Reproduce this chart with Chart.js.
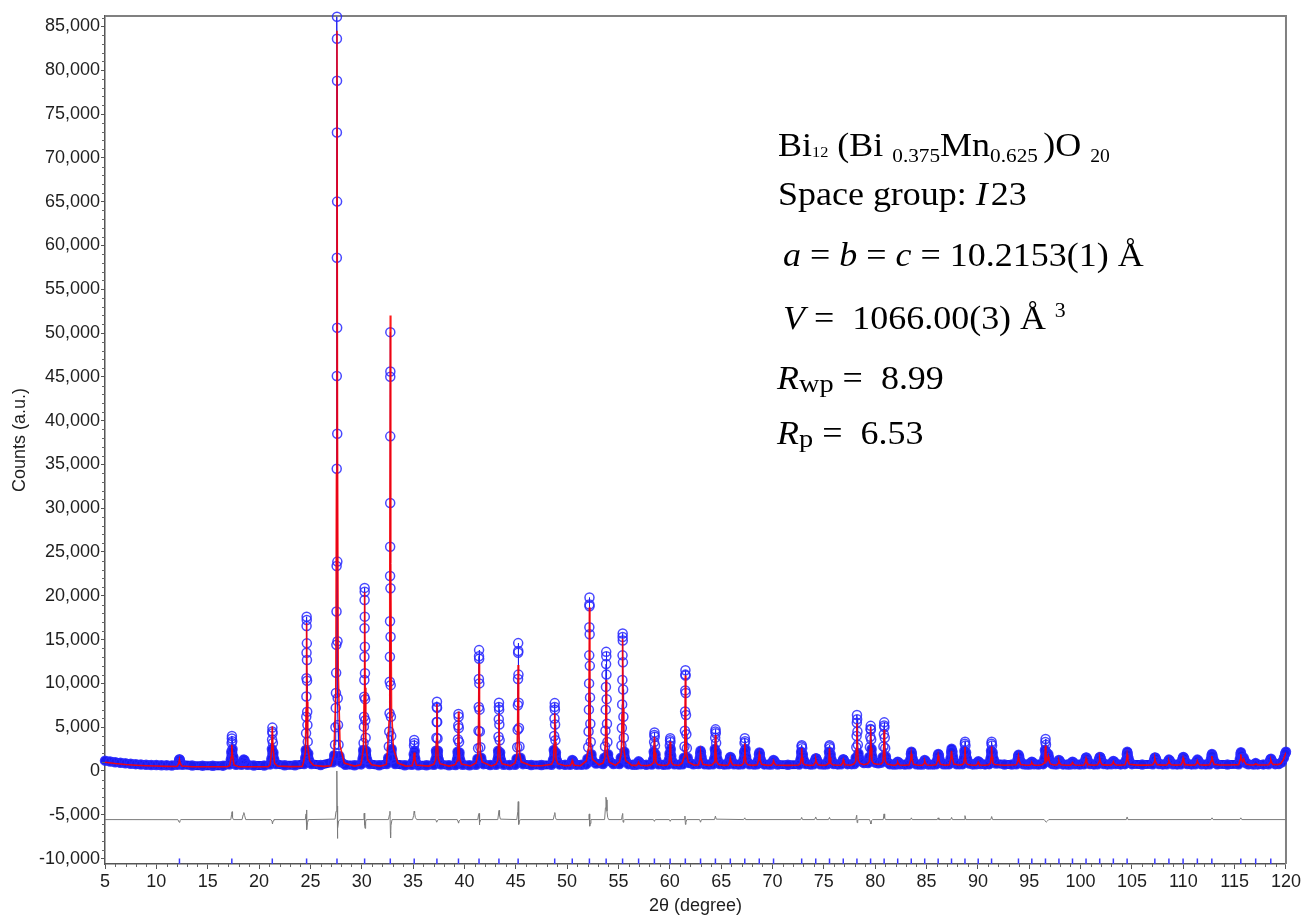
<!DOCTYPE html>
<html lang="en">
<head>
<meta charset="UTF-8">
<title>Rietveld refinement - Bi12(Bi0.375Mn0.625)O20</title>
<script src="https://cdn.jsdelivr.net/npm/chart.js"></script>
<style>
  body { margin: 0; background: #fff; }
  #wrap { position: relative; width: 1303px; height: 918px; }
  #info { position: absolute; left: 0; top: 0; font-family: "Liberation Serif", "Times New Roman", serif; font-size: 33px; color: #000; }
  #info div { position: absolute; white-space: nowrap; line-height: 33px; transform: scaleX(1.09); transform-origin: left center; }
  #info sub { font-size: 19.5px; vertical-align: -6px; line-height: 0; }
  #info sub.s1 { font-size: 15px; vertical-align: -1px; }
  #info sub.s2 { font-size: 18px; vertical-align: -6px; }
  #info sup { font-size: 20px; vertical-align: 12px; line-height: 0; margin-left: 8px; }
  #info .rs { font-size: 26px; vertical-align: -3px; line-height: 0; }
</style>
</head>
<body>
<div id="wrap">
  <canvas id="rietveld" width="1303" height="918"></canvas>
  <div id="info">
    <div style="left:778px; top:129px">Bi<sub class="s1">12</sub> (Bi <sub>0.375</sub>Mn<sub>0.625 </sub>)O <sub class="s2">20</sub></div>
    <div style="left:778px; top:178px">Space group: <i>I</i>&#8202;23</div>
    <div style="left:783px; top:239px"><i>a</i> = <i>b</i> = <i>c</i> = 10.2153(1) Å</div>
    <div style="left:783px; top:302px"><i>V</i> = &nbsp;1066.00(3) Å<sup>3</sup></div>
    <div style="left:777px; top:362px"><i>R</i><span class="rs">wp</span> = &nbsp;8.99</div>
    <div style="left:777px; top:417px"><i>R</i><span class="rs">p</span> = &nbsp;6.53</div>
  </div>
</div>

<script>
// observed intensities (2theta, counts)
var observed = [
  [5.0,1180],[5.5,1080],[6.0,1000],[6.5,930],[7.0,870],[7.5,820],[8.0,780],[8.5,740],[9.0,710],[9.5,690],[10.0,670],[10.5,650],[11.0,640],[11.5,630],
  [12.05,700],[12.15,950],[12.22,1250],[12.25,1350],[12.29,1250],[12.36,950],[12.5,700],
  [13.5,620],[14.5,610],[15.5,600],[16.5,610],
  [17.15,750],[17.25,1300],[17.3,2200],[17.33,3200],[17.35,3700],[17.36,4000],[17.39,3400],[17.42,2500],[17.47,1600],[17.56,1000],[17.75,720],
  [18.3,700],[18.42,1050],[18.5,1300],[18.58,1250],[18.68,950],[18.85,700],
  [19.5,620],[20.5,630],
  [21.1,750],[21.2,1400],[21.25,2500],[21.27,3600],[21.29,4500],[21.3,4950],[21.32,4300],[21.35,3200],[21.4,2100],[21.48,1300],[21.65,800],
  [22.5,640],[23.5,650],
  [24.4,800],[24.5,1500],[24.55,2400],[24.58,4300],[24.6,6200],[24.61,8500],[24.62,10600],[24.625,13500],[24.63,16550],[24.635,17600],[24.645,17240],[24.655,14570],[24.665,12670],[24.675,10300],[24.69,6770],[24.71,5250],[24.74,3350],[24.79,2000],[24.88,1200],[25.1,800],
  [26.0,680],
  [27.2,1000],[27.32,1800],[27.4,3000],[27.44,5000],[27.47,7200],[27.49,8900],[27.51,11200],[27.53,14400],[27.545,18200],[27.555,23400],[27.565,34500],[27.572,45100],[27.578,58600],[27.583,72900],[27.587,83600],[27.59,86100],[27.596,78800],[27.602,65000],[27.608,50600],[27.615,38500],[27.625,23900],[27.64,14800],[27.66,8300],[27.69,5250],[27.74,3000],[27.83,1700],[28.0,1000],[28.4,700],
  [29.3,650],
  [29.95,750],[30.08,1400],[30.14,2400],[30.18,3200],[30.21,5060],[30.23,6200],[30.245,8480],[30.255,10390],[30.265,13050],[30.272,16290],[30.278,19520],[30.283,20900],[30.29,20470],[30.297,17620],[30.305,14190],[30.315,11150],[30.33,8200],[30.35,5800],[30.38,3800],[30.43,2300],[30.52,1300],[30.75,800],
  [31.7,660],
  [32.45,800],[32.58,1500],[32.64,2800],[32.68,4500],[32.71,6600],[32.73,10200],[32.745,13050],[32.755,17100],[32.762,22260],[32.768,25600],[32.773,30600],[32.777,38200],[32.78,45000],[32.783,50100],[32.787,45600],[32.795,20860],[32.805,15330],[32.82,9800],[32.84,6200],[32.87,4000],[32.92,2500],[33.0,1400],[33.25,800],
  [34.2,660],
  [34.9,700],[35.0,1100],[35.06,1900],[35.09,2900],[35.11,3550],[35.13,3200],[35.16,2300],[35.21,1400],[35.32,850],[35.5,650],
  [36.3,650],
  [37.05,700],[37.17,1300],[37.23,2300],[37.27,3800],[37.3,5600],[37.315,7300],[37.325,7900],[37.335,7200],[37.35,5600],[37.38,3700],[37.42,2300],[37.5,1300],[37.7,750],
  [38.5,650],
  [39.15,680],[39.27,1250],[39.33,2200],[39.37,3600],[39.4,5200],[39.42,6500],[39.435,6200],[39.45,4900],[39.48,3300],[39.52,2100],[39.6,1200],[39.8,720],
  [40.5,660],
  [41.15,700],[41.27,1400],[41.33,2600],[41.37,4600],[41.395,7300],[41.41,10500],[41.42,13100],[41.425,13800],[41.435,12800],[41.45,10000],[41.47,7000],[41.5,4500],[41.55,2700],[41.63,1500],[41.85,780],
  [42.5,670],
  [43.1,700],[43.22,1300],[43.28,2300],[43.32,3900],[43.345,5900],[43.36,7300],[43.365,7800],[43.38,7000],[43.4,5300],[43.43,3500],[43.48,2100],[43.57,1200],[43.8,720],
  [44.4,680],
  [44.95,720],[45.08,1400],[45.14,2700],[45.18,4700],[45.205,7500],[45.22,10500],[45.23,13500],[45.235,14600],[45.245,13700],[45.26,11000],[45.28,7800],[45.31,4900],[45.36,2800],[45.45,1500],[45.7,780],
  [46.5,680],[47.5,680],
  [48.5,720],[48.63,1300],[48.7,2400],[48.74,4000],[48.77,6000],[48.785,7300],[48.795,7750],[48.81,7000],[48.83,5300],[48.86,3500],[48.91,2100],[49.0,1200],[49.25,750],
  [49.8,700],
  [50.3,720],[50.42,1000],[50.5,1250],[50.58,1150],[50.7,850],[50.9,720],
  [51.4,700],
  [51.85,750],[51.98,1400],[52.05,2700],[52.09,4500],[52.12,7000],[52.14,10000],[52.155,13200],[52.165,16400],[52.172,19000],[52.177,19800],[52.185,18800],[52.195,15600],[52.21,12000],[52.23,8400],[52.26,5400],[52.3,3300],[52.37,1900],[52.5,1100],
  [52.8,850],
  [53.5,800],[53.62,1500],[53.69,2800],[53.73,4600],[53.76,7000],[53.78,9600],[53.795,12200],[53.805,13600],[53.815,13100],[53.83,11000],[53.85,8200],[53.88,5400],[53.92,3300],[53.99,1900],[54.12,1150],
  [54.5,800],
  [55.1,800],[55.23,1500],[55.29,2900],[55.33,4900],[55.36,7600],[55.38,10400],[55.395,13200],[55.405,15300],[55.41,15700],[55.42,14900],[55.435,12400],[55.455,9300],[55.48,6200],[55.52,3800],[55.58,2200],[55.7,1200],[55.95,780],
  [56.4,720],
  [56.75,720],[56.88,950],[56.96,1100],[57.04,1000],[57.18,760],
  [57.7,720],
  [58.25,730],[58.37,1300],[58.43,2200],[58.47,3300],[58.495,4100],[58.51,4400],[58.53,3900],[58.56,2900],[58.61,1900],[58.7,1200],[58.9,760],
  [59.4,720],
  [59.8,730],[59.91,1250],[59.97,2000],[60.0,2900],[60.025,3500],[60.04,3750],[60.06,3300],[60.09,2500],[60.14,1700],[60.24,1100],[60.45,760],
  [60.9,730],
  [61.25,760],[61.37,1500],[61.43,2800],[61.47,4600],[61.49,6800],[61.505,9200],[61.515,11000],[61.52,11500],[61.53,10900],[61.55,8900],[61.575,6400],[61.61,4200],[61.66,2600],[61.74,1500],[61.9,900],
  [62.3,760],
  [62.78,800],[62.9,1400],[62.96,2000],[62.99,2300],[63.03,2100],[63.09,1600],[63.2,1050],[63.4,760],
  [63.8,740],
  [64.2,760],[64.32,1400],[64.38,2500],[64.42,3800],[64.44,4500],[64.455,4750],[64.475,4300],[64.51,3200],[64.56,2100],[64.65,1300],[64.85,800],
  [65.3,740],
  [65.68,760],[65.8,1200],[65.87,1500],[65.9,1600],[65.96,1450],[66.06,1100],[66.25,760],
  [66.7,740],
  [67.07,760],[67.18,1300],[67.24,2200],[67.28,3200],[67.305,3750],[67.33,3400],[67.37,2500],[67.43,1600],[67.53,1100],[67.75,760],
  [68.2,740],
  [68.5,760],[68.61,1300],[68.68,1900],[68.72,2100],[68.77,1850],[68.85,1350],[68.98,950],[69.2,750],
  [69.6,740],
  [69.9,740],[70.02,1050],[70.1,1250],[70.18,1150],[70.3,880],[70.5,740],
  [71.5,720],
  [72.6,740],[72.72,1300],[72.79,2200],[72.83,2800],[72.85,2950],[72.89,2600],[72.95,1900],[73.05,1250],[73.25,800],
  [73.7,740],
  [74.0,760],[74.12,1150],[74.2,1400],[74.24,1450],[74.32,1250],[74.45,950],[74.65,760],
  [75.0,740],
  [75.32,760],[75.44,1300],[75.5,2200],[75.54,2800],[75.56,2950],[75.6,2600],[75.66,1900],[75.76,1250],[75.95,800],
  [76.35,750],
  [76.68,760],[76.8,1100],[76.88,1350],[76.95,1250],[77.07,950],[77.3,780],
  [77.7,780],
  [77.98,800],[78.1,1500],[78.16,2700],[78.19,4000],[78.21,5500],[78.225,6400],[78.24,5900],[78.27,4500],[78.31,3000],[78.37,2000],[78.46,1400],[78.58,1100],
  [78.9,900],
  [79.3,900],[79.42,1600],[79.48,2700],[79.52,3900],[79.545,4800],[79.56,5150],[79.58,4700],[79.61,3600],[79.65,2500],[79.72,1600],[79.82,1150],[80.0,950],
  [80.3,880],
  [80.62,950],[80.74,1600],[80.8,2800],[80.84,4200],[80.865,5200],[80.88,5550],[80.9,5000],[80.93,3800],[80.97,2600],[81.04,1650],[81.15,1100],[81.4,780],
  [81.7,750],
  [82.0,740],[82.12,950],[82.19,1050],[82.28,980],[82.42,760],
  [82.9,740],
  [83.3,760],[83.41,1300],[83.48,1950],[83.52,2200],[83.57,1950],[83.65,1400],[83.78,950],[84.0,760],
  [84.3,740],
  [84.62,740],[84.74,1050],[84.82,1250],[84.9,1150],[85.02,880],[85.2,740],
  [85.6,740],
  [85.92,760],[86.03,1250],[86.1,1750],[86.14,1950],[86.2,1750],[86.28,1300],[86.42,900],[86.65,760],
  [86.95,760],
  [87.22,780],[87.33,1400],[87.4,2200],[87.44,2550],[87.49,2250],[87.57,1600],[87.7,1050],[87.9,780],
  [88.2,760],
  [88.52,780],[88.63,1400],[88.69,2300],[88.73,3100],[88.75,3350],[88.79,2900],[88.85,2100],[88.95,1350],[89.15,850],
  [89.5,750],
  [89.82,760],[89.95,980],[90.03,1100],[90.12,1020],[90.26,800],
  [90.7,750],
  [91.1,780],[91.22,1400],[91.28,2300],[91.32,3100],[91.34,3350],[91.38,2900],[91.44,2100],[91.54,1350],[91.75,850],
  [92.6,740],[93.3,740],
  [93.74,760],[93.85,1250],[93.92,1700],[93.96,1850],[94.02,1650],[94.11,1200],[94.25,880],[94.45,760],
  [94.75,740],
  [95.05,740],[95.17,950],[95.25,1050],[95.34,960],[95.48,760],
  [95.9,740],
  [96.36,780],[96.47,1400],[96.53,2400],[96.57,3300],[96.59,3650],[96.63,3000],[96.69,2100],[96.78,1800],[96.86,1900],[96.93,1500],[97.05,1000],[97.25,800],
  [97.5,760],
  [97.7,760],[97.81,1050],[97.89,1250],[97.97,1150],[98.1,870],[98.3,750],
  [98.7,740],
  [99.0,740],[99.13,940],[99.21,1050],[99.3,970],[99.44,770],
  [99.9,740],
  [100.32,760],[100.44,1200],[100.52,1500],[100.56,1550],[100.63,1400],[100.74,1050],[100.9,800],
  [101.3,750],
  [101.65,760],[101.77,1250],[101.85,1550],[101.89,1600],[101.96,1450],[102.08,1080],[102.25,800],
  [102.6,750],
  [102.98,760],[103.1,1000],[103.19,1150],[103.28,1050],[103.42,800],
  [103.9,750],
  [104.32,780],[104.43,1300],[104.5,1900],[104.54,2200],[104.59,1950],[104.67,1450],[104.8,1000],[105.0,780],
  [106.0,740],
  [107.02,760],[107.14,1200],[107.22,1500],[107.26,1550],[107.33,1400],[107.45,1050],[107.62,800],
  [108.0,750],
  [108.4,760],[108.52,1100],[108.6,1300],[108.68,1200],[108.82,900],[109.0,760],
  [109.4,750],
  [109.77,770],[109.89,1250],[109.97,1550],[110.01,1600],[110.08,1450],[110.2,1080],[110.38,800],
  [110.8,750],
  [111.17,760],[111.29,1100],[111.37,1300],[111.45,1200],[111.59,900],[111.78,760],
  [112.2,750],
  [112.57,770],[112.68,1300],[112.75,1750],[112.79,1950],[112.85,1750],[112.94,1300],[113.08,950],[113.3,760],
  [114.3,740],
  [115.38,770],[115.5,1350],[115.57,1900],[115.61,2150],[115.67,1800],[115.76,1400],[115.88,1500],[115.97,1200],[116.12,880],[116.35,760],
  [116.85,740],[117.05,900],[117.25,750],
  [117.8,750],
  [118.3,760],[118.42,1100],[118.5,1350],[118.54,1400],[118.62,1200],[118.76,900],[118.95,780],
  [119.3,800],[119.6,1000],[119.8,1500],[119.92,2000],[120.0,2200]
];

// calculated profile (red line)
var calculated = [
  [5,1000],[6,850],[7,740],[8,660],[9,600],[10,560],[11,530],[11.9,510],
  [12.05,550],[12.19,860],[12.25,1300],[12.32,900],[12.47,570],
  [13.5,490],[15,480],[16.9,480],
  [17.15,600],[17.29,1600],[17.35,3000],[17.42,1750],[17.57,680],
  [18.0,490],[19.5,480],[20.9,490],
  [21.09,720],[21.23,2560],[21.29,5100],[21.36,2800],[21.51,860],[21.8,560],
  [23,500],[24.2,520],
  [24.33,1000],[24.51,2150],[24.58,7100],[24.63,16900],[24.68,7900],[24.75,2650],[24.93,1150],[25.3,650],
  [26.3,520],[27.0,600],
  [27.29,1800],[27.47,8900],[27.54,34000],[27.59,84500],[27.64,38000],[27.71,11400],[27.89,2900],[28.3,900],
  [29.3,560],[29.9,700],
  [29.98,1100],[30.16,2600],[30.23,8700],[30.28,20400],[30.33,9500],[30.4,3100],[30.58,1300],[30.95,700],
  [31.8,560],[32.4,750],
  [32.48,1900],[32.66,5700],[32.73,21200],[32.78,52000],[32.83,23700],[32.9,7200],[33.08,2600],[33.5,900],
  [34.3,560],[34.85,600],
  [34.91,620],[35.05,1240],[35.11,2100],[35.18,1320],[35.33,670],
  [36.5,560],
  [37.02,760],[37.2,1260],[37.27,3390],[37.32,7650],[37.37,3750],[37.44,1470],[37.62,830],
  [38.5,560],
  [39.12,740],[39.3,1180],[39.37,3050],[39.42,6800],[39.47,3360],[39.54,1370],[39.72,800],
  [40.6,570],
  [41.12,920],[41.3,1740],[41.37,5260],[41.42,12300],[41.47,5850],[41.54,2090],[41.72,1040],
  [42.6,580],
  [43.06,760],[43.24,1180],[43.31,2990],[43.36,6600],[43.41,3290],[43.48,1370],[43.66,810],
  [44.5,590],
  [44.93,920],[45.11,1740],[45.18,5200],[45.23,12100],[45.28,5780],[45.35,2110],[45.53,1040],
  [46.5,600],[47.5,590],
  [48.49,770],[48.67,1200],[48.74,3010],[48.79,6600],[48.84,3310],[48.91,1390],[49.09,830],
  [49.8,600],
  [50.3,640],[50.44,880],[50.5,1150],[50.57,900],[50.72,650],
  [51.3,600],
  [51.87,1140],[52.05,2410],[52.12,7840],[52.17,18700],[52.22,8750],[52.29,2950],[52.47,1320],
  [53.1,700],
  [53.5,900],[53.68,1580],[53.75,4520],[53.8,10400],[53.85,5010],[53.92,1870],[54.1,990],
  [54.7,650],
  [55.1,1040],[55.28,2050],[55.35,6400],[55.4,15100],[55.45,7130],[55.52,2490],[55.7,1180],
  [56.3,640],
  [56.76,640],[56.9,820],[56.96,1000],[57.03,830],[57.18,650],
  [57.8,610],
  [58.2,700],[58.38,930],[58.44,1940],[58.5,3900],[58.56,2090],[58.64,1030],[58.82,730],
  [59.4,620],
  [59.73,680],[59.91,880],[59.98,1700],[60.03,3350],[60.09,1840],[60.16,960],[60.34,710],
  [60.9,630],
  [61.21,910],[61.39,1630],[61.46,4720],[61.51,10900],[61.56,5240],[61.63,1940],[61.81,1010],
  [62.4,650],
  [62.79,700],[62.93,1320],[62.99,2100],[63.06,1380],[63.21,760],
  [63.8,640],
  [64.14,700],[64.32,980],[64.39,2040],[64.44,4100],[64.49,2230],[64.56,1090],[64.74,740],
  [65.3,640],
  [65.69,680],[65.83,1030],[65.89,1450],[65.96,1060],[66.11,700],
  [66.7,640],
  [67.0,680],[67.18,880],[67.25,1620],[67.3,3150],[67.35,1740],[67.42,940],[67.6,700],
  [68.1,640],
  [68.51,700],[68.65,1240],[68.71,1900],[68.78,1290],[68.93,760],
  [69.5,640],
  [69.9,660],[70.04,890],[70.1,1150],[70.17,910],[70.32,680],
  [71.5,640],
  [72.54,690],[72.72,850],[72.79,1430],[72.84,2600],[72.89,1530],[72.96,900],[73.14,700],
  [73.6,640],
  [74.01,680],[74.15,970],[74.21,1350],[74.28,1000],[74.43,700],
  [74.9,640],
  [75.25,690],[75.43,850],[75.5,1430],[75.55,2600],[75.6,1530],[75.67,900],[75.85,700],
  [76.3,650],
  [76.69,680],[76.83,930],[76.89,1250],[76.96,960],[77.11,700],
  [77.6,660],
  [77.92,800],[78.1,1100],[78.17,2540],[78.22,5450],[78.27,2780],[78.34,1230],[78.52,860],
  [78.9,720],
  [79.25,820],[79.43,1080],[79.5,2410],[79.55,5050],[79.6,2640],[79.67,1180],[79.85,840],
  [80.2,760],
  [80.57,800],[80.75,1010],[80.82,2250],[80.87,4700],[80.92,2450],[80.99,1110],[81.17,780],
  [81.7,660],
  [81.99,670],[82.13,820],[82.19,1000],[82.26,830],[82.41,680],
  [82.9,650],
  [83.31,700],[83.45,1270],[83.51,1950],[83.58,1330],[83.73,760],
  [84.2,650],
  [84.62,670],[84.76,890],[84.82,1150],[84.89,910],[85.04,690],
  [85.5,650],
  [85.93,700],[86.07,1180],[86.13,1750],[86.2,1230],[86.35,750],
  [86.8,660],
  [87.23,720],[87.37,1460],[87.43,2300],[87.5,1540],[87.65,800],
  [88.1,680],
  [88.44,720],[88.62,860],[88.69,1470],[88.74,2750],[88.79,1570],[88.86,910],[89.04,730],
  [89.5,660],
  [89.83,670],[89.97,820],[90.03,1000],[90.1,830],[90.25,680],
  [90.7,650],
  [91.03,720],[91.21,870],[91.28,1520],[91.33,2800],[91.38,1630],[91.45,920],[91.63,730],
  [92.6,650],
  [93.75,700],[93.89,1130],[93.95,1650],[94.02,1170],[94.17,740],
  [94.7,650],
  [95.05,660],[95.19,800],[95.25,950],[95.32,810],[95.47,670],
  [95.95,660],
  [96.28,730],[96.46,920],[96.53,1650],[96.58,2900],[96.63,1700],[96.7,1150],[96.8,1350],[96.86,1650],[96.92,1200],[97.06,800],
  [97.4,680],
  [97.69,680],[97.83,890],[97.89,1150],[97.96,910],[98.11,700],
  [98.6,660],
  [99.01,670],[99.15,800],[99.21,950],[99.28,820],[99.43,680],
  [99.9,660],
  [100.33,690],[100.47,1020],[100.53,1400],[100.6,1050],[100.75,720],
  [101.3,660],
  [101.66,700],[101.8,1050],[101.86,1450],[101.93,1080],[102.08,720],
  [102.6,670],
  [102.99,680],[103.13,850],[103.19,1050],[103.26,870],[103.41,690],
  [103.9,670],
  [104.33,710],[104.47,1200],[104.53,1850],[104.6,1260],[104.75,770],
  [105.5,670],[106.5,670],
  [107.03,700],[107.17,1030],[107.23,1400],[107.3,1060],[107.45,720],
  [108.0,670],
  [108.4,690],[108.54,900],[108.6,1150],[108.67,920],[108.82,700],
  [109.3,670],
  [109.78,700],[109.92,1050],[109.98,1450],[110.05,1080],[110.2,720],
  [110.7,670],
  [111.17,690],[111.31,900],[111.37,1150],[111.44,920],[111.59,700],
  [112.1,670],
  [112.58,700],[112.72,1160],[112.78,1700],[112.85,1210],[113.0,750],
  [113.6,680],[114.5,680],
  [115.4,720],[115.54,1280],[115.6,1900],[115.67,1330],[115.78,1080],[115.88,1350],[115.96,1050],[116.12,760],
  [116.6,680],
  [116.85,690],[117.05,800],[117.25,700],
  [117.8,680],
  [118.32,710],[118.46,960],[118.52,1250],[118.59,990],[118.74,730],
  [119.2,720],[119.5,850],[119.75,1300],[119.9,1800],[120,2100]
];

// difference curve (obs - calc, shifted down)
var difference = [
  [5,-5550],[12.1,-5560],[12.22,-5850],[12.3,-5650],[12.4,-5550],
  [17.25,-5550],[17.33,-4950],[17.38,-4650],[17.42,-5300],[17.5,-5550],
  [18.35,-5550],[18.45,-5000],[18.52,-4750],[18.6,-5100],[18.7,-5550],
  [21.15,-5550],[21.26,-5750],[21.31,-6050],[21.36,-5700],[21.45,-5550],
  [24.5,-5550],[24.58,-4900],[24.61,-4450],[24.64,-6000],[24.67,-6700],[24.72,-5900],[24.8,-5550],
  [27.4,-5500],[27.5,-4600],[27.56,-2500],[27.59,0],[27.61,-4000],[27.63,-7700],[27.67,-6500],[27.75,-5700],[27.9,-5550],
  [30.15,-5550],[30.22,-4900],[30.26,-4800],[30.29,-6200],[30.32,-6550],[30.38,-5800],[30.45,-5550],
  [32.6,-5550],[32.7,-5000],[32.75,-4600],[32.79,-7000],[32.81,-7650],[32.85,-6200],[32.95,-5550],
  [34.95,-5550],[35.05,-5100],[35.1,-4600],[35.15,-4800],[35.22,-5300],[35.35,-5550],
  [37.2,-5550],[37.3,-5850],[37.36,-5700],[37.45,-5550],
  [39.3,-5550],[39.38,-5800],[39.43,-5950],[39.48,-5700],[39.6,-5550],
  [41.3,-5550],[41.38,-4950],[41.42,-4850],[41.45,-6150],[41.5,-5900],[41.6,-5550],
  [43.25,-5550],[43.33,-4800],[43.37,-4500],[43.42,-5100],[43.5,-5500],
  [45.1,-5550],[45.2,-4600],[45.24,-3500],[45.27,-5000],[45.3,-6100],[45.36,-5700],[45.45,-5550],
  [48.65,-5550],[48.75,-5000],[48.8,-4750],[48.86,-5300],[48.95,-5550],
  [52.05,-5550],[52.13,-5000],[52.17,-4900],[52.2,-6300],[52.24,-6000],[52.32,-5550],
  [53.65,-5550],[53.73,-4200],[53.78,-3000],[53.83,-3300],[53.88,-4600],[53.95,-5300],[54.05,-5550],
  [55.3,-5550],[55.37,-5000],[55.41,-4850],[55.45,-5850],[55.52,-5600],[55.6,-5550],
  [58.4,-5550],[58.5,-5750],[58.58,-5550],
  [59.95,-5550],[60.04,-5750],[60.12,-5550],
  [61.4,-5550],[61.47,-5150],[61.52,-6100],[61.57,-5850],[61.65,-5550],
  [62.9,-5550],[62.99,-5850],[63.08,-5550],
  [64.35,-5550],[64.44,-5150],[64.52,-5500],
  [67.2,-5550],[67.3,-5350],[67.38,-5550],
  [72.75,-5550],[72.84,-5300],[72.92,-5550],
  [74.1,-5550],[74.21,-5250],[74.3,-5550],
  [75.45,-5550],[75.55,-5300],[75.63,-5550],
  [78.1,-5550],[78.2,-5050],[78.24,-5900],[78.3,-5600],[78.4,-5550],
  [79.45,-5550],[79.54,-5850],[79.58,-6050],[79.65,-5650],[79.75,-5550],
  [80.78,-5550],[80.86,-4900],[80.92,-5350],[81.0,-5550],
  [83.45,-5550],[83.52,-5350],[83.6,-5550],
  [86.05,-5550],[86.13,-5350],[86.2,-5550],
  [87.35,-5550],[87.44,-5300],[87.52,-5550],
  [88.65,-5550],[88.74,-5100],[88.83,-5550],
  [91.25,-5550],[91.34,-5200],[91.43,-5550],
  [96.45,-5550],[96.55,-5700],[96.65,-5850],[96.78,-5700],[96.9,-5550],
  [104.45,-5550],[104.53,-5250],[104.62,-5550],
  [112.7,-5550],[112.8,-5350],[112.9,-5550],
  [115.5,-5550],[115.6,-5350],[115.7,-5550],
  [120,-5550]
];

// Bragg reflection positions (blue ticks) and the level they sit at
var reflections = [12.25,17.35,21.29,24.63,27.59,30.28,32.78,35.11,37.32,39.42,41.42,43.36,45.23,48.79,50.50,52.17,53.80,55.40,56.96,58.50,60.03,61.51,62.99,64.44,65.89,67.30,68.71,70.10,72.84,74.21,75.55,76.89,78.22,79.55,80.87,82.19,83.51,84.82,86.13,87.43,88.74,90.03,91.33,93.95,95.25,96.58,97.89,99.21,100.53,101.86,103.19,104.53,107.23,108.60,109.98,111.37,112.78,115.60,117.05,118.52];
var reflectionLevel = -10330;

var xTicks = [5,10,15,20,25,30,35,40,45,50,55,60,65,70,75,80,85,90,95,100,105,110,115,120];
var yTicks = [-10000,-5000,0,5000,10000,15000,20000,25000,30000,35000,40000,45000,50000,55000,60000,65000,70000,75000,80000,85000];

function toXY(arr) {
  return arr.map(function (p) { return { x: p[0], y: p[1] }; });
}

var axisFont = { family: '"Liberation Sans", Arial, sans-serif', size: 18 };

// thick band near the baseline, thin line up the peak flanks
function obsWidth(s) {
  var dx = Math.abs(s.p1.x - s.p0.x), dy = Math.abs(s.p1.y - s.p0.y);
  var low = s.chart.scales.y.getPixelForValue(2600);
  if (s.p0.y > low && s.p1.y > low) return 9;
  return dy <= dx * 2 + 0.5 ? 9 : 1;
}

// minor ticks + top/right frame
var frame = {
  id: 'frame',
  beforeDatasetsDraw: function (c) {
    var g = c.ctx, a = c.chartArea;
    g.save();
    g.strokeStyle = '#808080';
    g.lineWidth = 2;
    g.beginPath();
    g.moveTo(a.left, a.top);
    g.lineTo(a.right, a.top);
    g.lineTo(a.right, a.bottom);
    g.stroke();
    g.restore();
  },
  afterDraw: function (c) {
    var g = c.ctx, a = c.chartArea, sx = c.scales.x, sy = c.scales.y;
    g.save();
    g.strokeStyle = '#666';
    g.lineWidth = 1;
    g.beginPath();
    for (var v = 6; v < 120; v++) {
      if (v % 5 === 0) continue;
      var px = Math.round(sx.getPixelForValue(v)) + 0.5;
      g.moveTo(px, a.bottom);
      g.lineTo(px, a.bottom + 3);
    }
    for (var w = -10000; w <= 86000; w += 1000) {
      if (w % 5000 === 0) continue;
      var py = Math.round(sy.getPixelForValue(w)) + 0.5;
      g.moveTo(a.left - 3, py);
      g.lineTo(a.left, py);
    }
    g.stroke();
    g.restore();
  }
};

var ctx = document.getElementById('rietveld').getContext('2d');
var chart = new Chart(ctx, {
  type: 'scatter',
  data: {
    datasets: [
      {
        label: 'Calculated',
        data: toXY(calculated),
        showLine: true,
        borderColor: 'rgba(255,0,0,0.9)',
        borderWidth: 1.6,
        pointRadius: 0,
        order: 0
      },
      {
        label: 'Observed',
        data: toXY(observed),
        showLine: true,
        borderColor: 'rgb(28,28,238)',
        borderWidth: 9,
        borderJoinStyle: 'round',
        borderCapStyle: 'round',
        segment: { borderWidth: obsWidth },
        pointRadius: 4.5,
        pointBorderWidth: 1.5,
        pointBorderColor: 'rgba(40,40,255,0.85)',
        pointBackgroundColor: 'rgba(255,255,255,0)',
        clip: false,
        order: 1
      },
      {
        label: 'Difference',
        data: toXY(difference),
        showLine: true,
        borderColor: '#7b7b7b',
        borderWidth: 1,
        pointRadius: 0,
        order: 2
      },
      {
        label: 'Bragg positions',
        data: reflections.map(function (x) { return { x: x, y: reflectionLevel }; }),
        pointStyle: 'line',
        rotation: 90,
        pointRadius: 3,
        pointBorderWidth: 1.5,
        pointBorderColor: 'rgb(60,60,255)',
        order: 3
      }
    ]
  },
  options: {
    responsive: false,
    animation: false,
    devicePixelRatio: 1,
    events: [],
    layout: { padding: { top: 16, right: 17, left: 0, bottom: 0 } },
    plugins: { legend: { display: false }, tooltip: { enabled: false } },
    scales: {
      x: {
        type: 'linear',
        min: 5,
        max: 120,
        afterBuildTicks: function (s) { s.ticks = xTicks.map(function (v) { return { value: v }; }); },
        afterFit: function (s) { s.height = 54; },
        grid: { display: true, drawOnChartArea: false, drawTicks: true, tickLength: 5, color: '#555' },
        border: { display: true, color: '#555', width: 1.5 },
        ticks: {
          autoSkip: false, maxRotation: 0, padding: 2, color: '#1e1e1e', font: axisFont,
          callback: function (v) { return String(v); }
        },
        title: { display: true, text: '2θ (degree)', color: '#1e1e1e', font: axisFont, padding: { top: 0, bottom: 1 } }
      },
      y: {
        type: 'linear',
        min: -10620,
        max: 86190,
        afterBuildTicks: function (s) { s.ticks = yTicks.map(function (v) { return { value: v }; }); },
        afterFit: function (s) { s.width = 105; },
        grid: { display: true, drawOnChartArea: false, drawTicks: true, tickLength: 4, color: '#555' },
        border: { display: true, color: '#555', width: 1.5 },
        ticks: {
          autoSkip: false, padding: 1, color: '#1e1e1e', font: axisFont,
          callback: function (v) { return v.toLocaleString('en-US'); }
        },
        title: { display: true, text: 'Counts (a.u.)', color: '#1e1e1e', font: axisFont, padding: { top: 9, bottom: 0 } }
      }
    }
  },
  plugins: [frame]
});
</script>
</body>
</html>
